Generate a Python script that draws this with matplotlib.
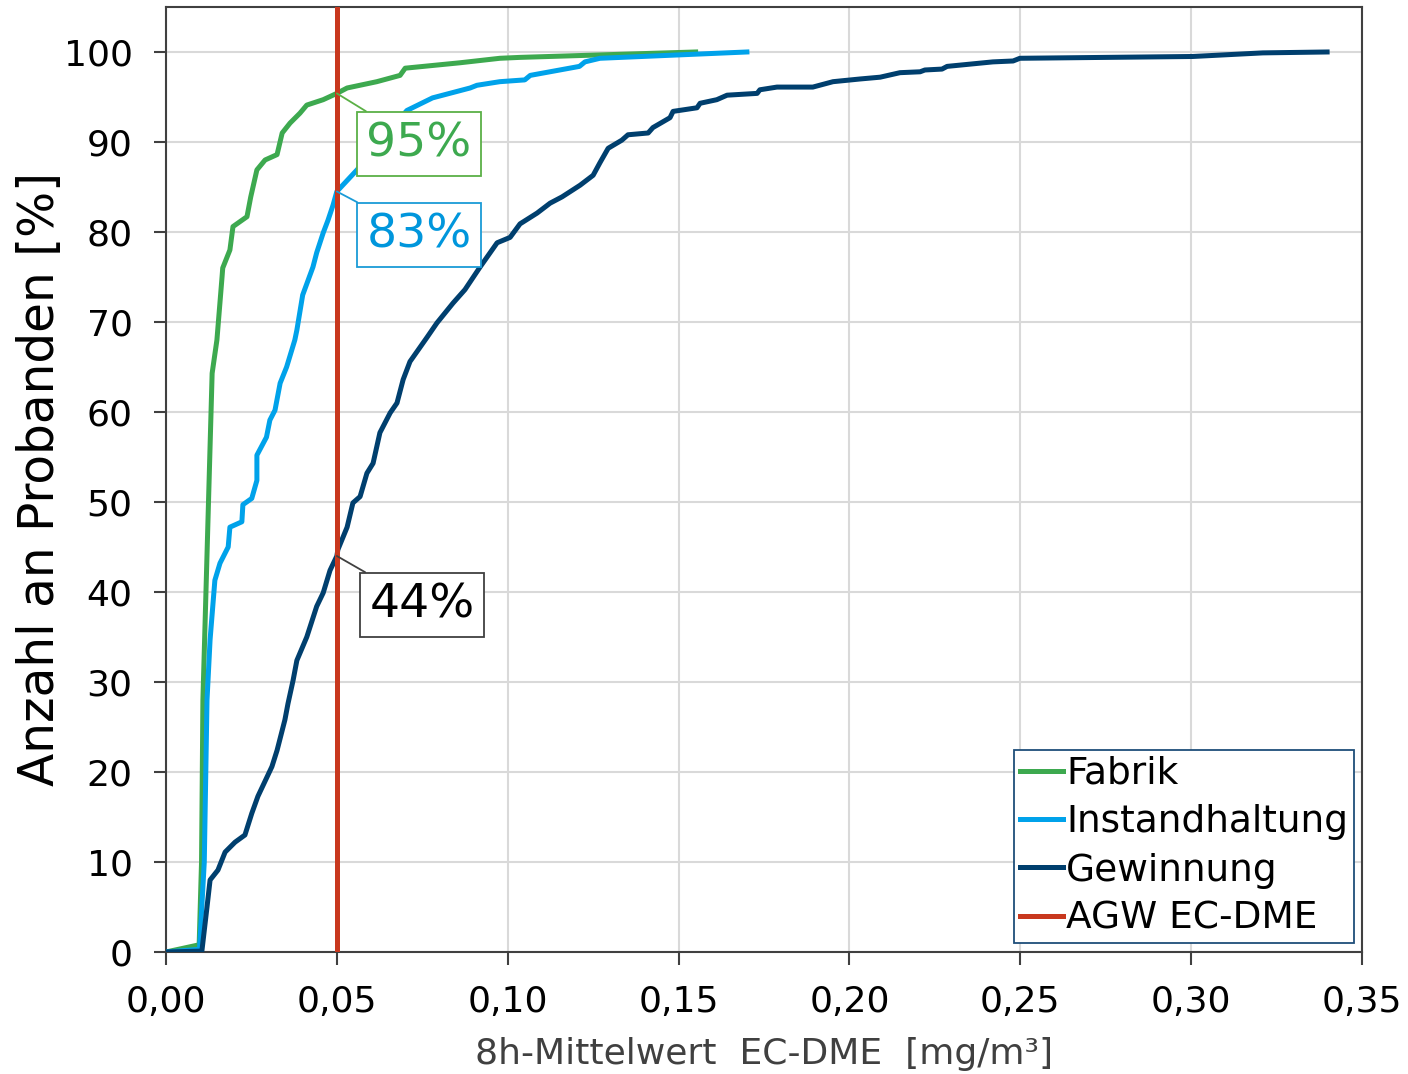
import numpy as np
import matplotlib.pyplot as plt

# cumulative share of subjects (%) over 8h mean EC-DME (mg/m3)
fabrik_x = [0.0, 0.0097, 0.0104, 0.0108, 0.0135, 0.0149, 0.0164, 0.0166, 0.0187,
            0.0196, 0.0237, 0.0248, 0.0266, 0.029, 0.0325, 0.034, 0.0363, 0.0392,
            0.0412, 0.046, 0.05, 0.053, 0.0617, 0.0685, 0.070, 0.086, 0.0977,
            0.1036, 0.155]
fabrik_y = [0.0, 0.8, 10.0, 28.0, 64.3, 68.0, 75.0, 76.0, 78.0,
            80.6, 81.7, 83.9, 86.9, 88.0, 88.6, 91.0, 92.1, 93.2,
            94.1, 94.7, 95.4, 96.0, 96.7, 97.4, 98.2, 98.8, 99.3,
            99.4, 100.0]

inst_x = [0.0, 0.0098, 0.0112, 0.012, 0.0129, 0.0143, 0.0158, 0.0182, 0.0187,
          0.0222, 0.0225, 0.0251, 0.0266, 0.0266, 0.0294, 0.0304, 0.0319, 0.0334,
          0.0353, 0.0377, 0.0383, 0.040, 0.043, 0.0441, 0.046, 0.0474, 0.0489,
          0.050, 0.0559, 0.0705, 0.078, 0.089, 0.091, 0.0977, 0.105, 0.1066,
          0.121, 0.1226, 0.127, 0.17]
inst_y = [0.0, 0.3, 10.0, 28.0, 34.7, 41.3, 43.2, 45.0, 47.2,
          47.8, 49.7, 50.4, 52.4, 55.2, 57.2, 59.1, 60.2, 63.2,
          65.0, 68.0, 69.1, 73.0, 76.1, 77.7, 79.9, 81.3, 83.0,
          84.5, 86.9, 93.5, 94.9, 96.0, 96.3, 96.7, 96.9, 97.4,
          98.4, 98.9, 99.3, 100.0]

gew_x = [0.0, 0.0105, 0.012, 0.0129, 0.0152, 0.0173, 0.0202, 0.0231, 0.0251,
         0.0269, 0.031, 0.0325, 0.0348, 0.0357, 0.0372, 0.0383, 0.0412, 0.0441,
         0.046, 0.048, 0.050, 0.0503, 0.053, 0.0547, 0.0568, 0.0588, 0.0606,
         0.0626, 0.0656, 0.0676, 0.0694, 0.0714, 0.0764, 0.0793, 0.084, 0.0875,
         0.0919, 0.0969, 0.1007, 0.1036, 0.1086, 0.1124, 0.1159, 0.1212, 0.125,
         0.127, 0.1294, 0.1334, 0.1352, 0.1411, 0.1425, 0.1475, 0.1484, 0.1554,
         0.1563, 0.1612, 0.1642, 0.173, 0.1738, 0.1788, 0.1893, 0.1952, 0.2031,
         0.209, 0.2148, 0.2207, 0.2221, 0.2271, 0.2286, 0.242, 0.2479, 0.2499,
         0.3005, 0.321, 0.3398]
gew_y = [0.0, 0.1, 5.0, 8.0, 9.1, 11.1, 12.2, 13.0, 15.4,
         17.3, 20.6, 22.4, 25.8, 27.6, 30.2, 32.4, 35.0, 38.4,
         39.9, 42.4, 44.0, 44.7, 47.2, 49.9, 50.6, 53.2, 54.3,
         57.7, 59.9, 61.0, 63.6, 65.6, 68.3, 69.9, 72.1, 73.6,
         76.1, 78.8, 79.4, 80.9, 82.1, 83.2, 83.9, 85.2, 86.3,
         87.7, 89.3, 90.2, 90.8, 91.0, 91.6, 92.7, 93.4, 93.8,
         94.3, 94.7, 95.2, 95.4, 95.8, 96.1, 96.1, 96.7, 97.0,
         97.2, 97.7, 97.8, 98.0, 98.1, 98.4, 98.9, 99.0, 99.3,
         99.5, 99.9, 100.0]

agw = 0.05
labels = ["95%", "83%", "44%"]
label_y = [95.4, 84.5, 44.0]

c_fab = "#3DA94F"
c_inst = "#00A2EA"
c_gew = "#003F6E"
c_agw = "#C8381E"

fig = plt.figure(figsize=(14.08, 10.74), dpi=100)
ax = fig.add_axes([0.1179, 0.1136, 0.8494, 0.8799])

ax.plot(fabrik_x, fabrik_y, color=c_fab, lw=3.6, label="Fabrik", zorder=3)
ax.plot(inst_x, inst_y, color=c_inst, lw=3.6, label="Instandhaltung", zorder=3)
ax.plot(gew_x, gew_y, color=c_gew, lw=3.6, label="Gewinnung", zorder=3)
ax.plot([agw, agw], [0, 105], color=c_agw, lw=3.6, label="AGW EC-DME", zorder=4)

ax.set_xlim(0, 0.35)
ax.set_ylim(0, 105)
ax.set_xticks(np.arange(0, 0.351, 0.05))
ax.set_xticklabels([f"{v:.2f}".replace(".", ",") for v in np.arange(0, 0.351, 0.05)])
ax.set_yticks(range(0, 101, 10))
ax.grid(color="#D9D9D9", lw=1.5)
ax.set_axisbelow(True)
for s in ax.spines.values():
    s.set_color("#404040")
    s.set_linewidth(1.5)
ax.tick_params(axis="both", labelsize=26, length=9, width=1.5, color="#404040")
ax.tick_params(axis="x", pad=15)
ax.tick_params(axis="y", pad=15)

ax.set_xlabel("8h-Mittelwert  EC-DME  [mg/m³]", fontsize=26, color="#404040", labelpad=13)
ax.set_ylabel("Anzahl an Probanden [%]", fontsize=35, labelpad=0)

# labelled values at the AGW line; offsets place the text inside each box
text_cols = [c_fab, "#0096DC", "black"]
edge_cols = ["#5BB046", "#1A9BD7", "#404040"]
offs = [(0.00865, -3.11), (0.00865, -2.32), (0.00953, -2.93)]
for txt, yv, tc, ec, (dx, dy) in zip(labels, label_y, text_cols, edge_cols, offs):
    ax.annotate(txt, xy=(agw, yv), xytext=(agw + dx, yv + dy),
                fontsize=34, color=tc, ha="left", va="top",
                bbox=dict(boxstyle="square,pad=0.2", fc="white", ec=ec, lw=1.3),
                arrowprops=dict(arrowstyle="-", color=ec, lw=1.3,
                                shrinkA=0, shrinkB=0),
                zorder=6)

leg = ax.legend(loc="lower right", fontsize=27, handlelength=1.15,
                handletextpad=0.08, borderpad=0.15, labelspacing=0.33,
                borderaxespad=0, fancybox=False, framealpha=1,
                bbox_to_anchor=(0.993, 0.01))
leg.get_frame().set_edgecolor("#1F4E79")
leg.get_frame().set_linewidth(1.3)

fig.savefig("out.png", dpi=100)
